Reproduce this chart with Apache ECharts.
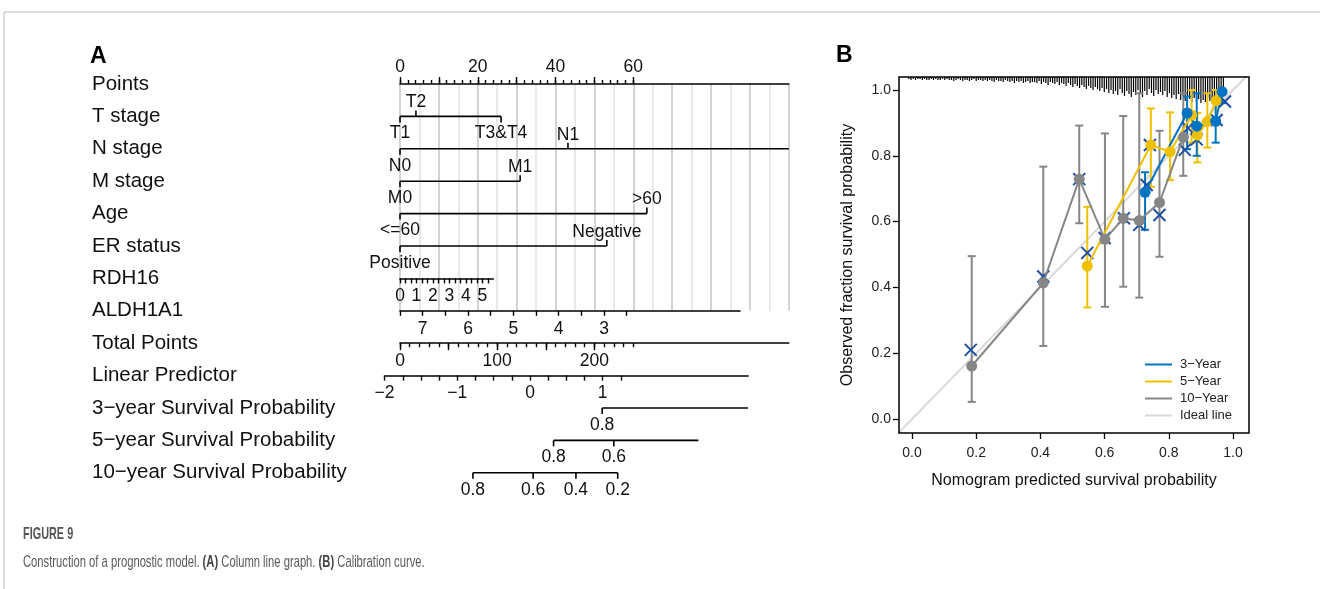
<!DOCTYPE html>
<html>
<head>
<meta charset="utf-8">
<script src="https://cdn.jsdelivr.net/npm/echarts@6/dist/echarts.min.js"></script>
<style>
html, body { margin: 0; padding: 0; background: #fff; }
#chart { width: 1320px; height: 589px; }
</style>
</head>
<body>
<div id="chart"></div>
<script>
// ---- nomogram (A) ----
var rowNames = ['Points', 'T stage', 'N stage', 'M stage', 'Age', 'ER status', 'RDH16', 'ALDH1A1',
    'Total Points', 'Linear Predictor', '3\u2212year Survival Probability',
    '5\u2212year Survival Probability', '10\u2212year Survival Probability'];

var tStage = ['T1', 'T2', 'T3&T4'], tStagePts = [0, 4.1, 26.0];
var nStage = ['N0', 'N1'], nStagePts = [0, 43.2], nStageLineEnd = 100;
var mStage = ['M0', 'M1'], mStagePts = [0, 30.9];
var ageGroup = ['<=60', '>60'], agePts = [0, 63.5];
var erStatus = ['Positive', 'Negative'], erPts = [0, 53.2];

var pointsLabels = [0, 20, 40, 60];
var rdh16Labels = [0, 1, 2, 3, 4, 5];
var aldhLabels = [7, 6, 5, 4, 3];
var totalLabels = [0, 100, 200];
var lpLabels = [-2, -1, 0, 1];

// survival scales, positions in total points
var surv3Labels = ['0.8'], surv3Total = [208], surv3Range = [208, 358];
var surv5Labels = ['0.8', '0.6'], surv5Total = [158, 220], surv5Range = [158, 307];
var surv10Labels = ['0.8', '0.6', '0.4', '0.2'], surv10Total = [75, 137, 181, 224], surv10Range = [75, 224];

// ---- calibration (B) ----
var x3y = [0.726, 0.857, 0.887, 0.946, 0.966];
var y3y = [0.689, 0.930, 0.890, 0.905, 0.995];
var lo3y = [0.575, 0.820, 0.800, 0.840, 0.960];
var hi3y = [0.750, 0.980, 0.990, 0.975, 1.000];

var x5y = [0.546, 0.744, 0.804, 0.871, 0.889, 0.920, 0.947];
var y5y = [0.465, 0.833, 0.812, 0.924, 0.863, 0.904, 0.967];
var lo5y = [0.339, 0.706, 0.726, 0.840, 0.780, 0.825, 0.900];
var hi5y = [0.645, 0.944, 0.932, 1.000, 0.930, 0.990, 1.000];

var x10y = [0.186, 0.409, 0.521, 0.601, 0.658, 0.708, 0.771, 0.845];
var y10y = [0.161, 0.414, 0.729, 0.546, 0.610, 0.603, 0.658, 0.856];
var lo10y = [0.052, 0.222, 0.595, 0.341, 0.402, 0.369, 0.493, 0.739];
var hi10y = [0.495, 0.767, 0.892, 0.868, 0.921, 0.990, 0.876, 0.990];

// bias-corrected estimates (X marks)
var xCorr = [0.183, 0.409, 0.521, 0.546, 0.600, 0.660, 0.708, 0.771, 0.731, 0.741, 0.850, 0.860, 0.887, 0.949, 0.975];
var yCorr = [0.210, 0.433, 0.729, 0.505, 0.550, 0.610, 0.590, 0.620, 0.711, 0.833, 0.818, 0.884, 0.850, 0.909, 0.965];

// distribution of predictions along the top
var rugStart = -0.01, rugStep = 0.007;
var rugCount = [2, 3, 2, 3, 2, 2, 3, 2, 3, 3, 2, 3, 2, 3, 3, 2,
    3, 2, 3, 3, 4, 3, 2, 3, 4, 3, 3, 4, 3, 2, 4, 3, 3, 4, 3, 4,
    3, 4, 5, 3, 4, 4, 5, 3, 4, 5, 4, 6, 4, 5, 4, 6, 5, 4, 6, 5,
    5, 6, 4, 7, 5, 6, 8, 5, 6, 7, 5, 8, 6, 7, 9,
    6, 8, 10, 7, 9, 11, 8, 10, 12, 9, 11, 13, 10, 12, 14,
    11, 15, 12, 16, 13, 17, 14, 18, 12, 16, 19, 14, 17, 20, 15,
    18, 13, 17, 20, 14, 18, 12, 16, 19, 13, 17, 15, 18, 14, 20,
    16, 21, 18, 22, 17, 23, 19, 24, 20, 22, 25, 21, 24, 22, 26,
    23, 25, 21, 24, 22, 20, 18, 21, 16, 12];

var FONT = 'Liberation Sans, Arial, sans-serif';
var C3 = '#0073C2', C5 = '#EFC000', C10 = '#868686', CIDEAL = '#D9D9D9', CX = '#1E50A2';

function rowY(i) { return 84 + i * 32.4; }
function range(a, b, step) {
    var out = [];
    for (var v = a; v <= b + 1e-9; v += step) out.push(+v.toFixed(4));
    return out;
}
function minus(v) { return String(v).replace('-', '\u2212'); }

var nomoRows = [
    {row: 1, from: 0, to: tStagePts[2], ticks: tStagePts, labels: tStage, alt: true},
    {row: 2, from: 0, to: nStageLineEnd, ticks: nStagePts, labels: nStage, alt: true},
    {row: 3, from: 0, to: mStagePts[1], ticks: mStagePts, labels: mStage, alt: true},
    {row: 4, from: 0, to: agePts[1], ticks: agePts, labels: ageGroup, alt: true},
    {row: 5, from: 0, to: erPts[1], ticks: erPts, labels: erStatus, alt: true},
    {row: 10, from: surv3Range[0] / 4, to: surv3Range[1] / 4, ticks: surv3Total.map(function (v) { return v / 4; }), labels: surv3Labels},
    {row: 11, from: surv5Range[0] / 4, to: surv5Range[1] / 4, ticks: surv5Total.map(function (v) { return v / 4; }), labels: surv5Labels},
    {row: 12, from: surv10Range[0] / 4, to: surv10Range[1] / 4, ticks: surv10Total.map(function (v) { return v / 4; }), labels: surv10Labels}
];

function renderNomoRow(params, api) {
    var r = nomoRows[params.dataIndex];
    var a = api.coord([r.from, r.row]), b = api.coord([r.to, r.row]);
    var kids = [{type: 'line', shape: {x1: a[0], y1: a[1], x2: b[0], y2: b[1]}, style: {stroke: '#000', lineWidth: 1.6}}];
    r.ticks.forEach(function (t, i) {
        var p = api.coord([t, r.row]);
        var dir = (r.alt && i % 2 === 1) ? -1 : 1;
        kids.push({type: 'line', shape: {x1: p[0], y1: p[1], x2: p[0], y2: p[1] + dir * 6}, style: {stroke: '#000', lineWidth: 1.6}});
        kids.push({type: 'text', x: p[0], y: p[1] + (dir > 0 ? 8 : -5), style: {
            text: r.labels[i], align: 'center', verticalAlign: dir > 0 ? 'top' : 'bottom',
            font: '17.5px ' + FONT, fill: '#111'}});
    });
    return {type: 'group', children: kids};
}

function errbarRender(color) {
    return function (params, api) {
        var p = api.coord([api.value(0), api.value(1)]), q = api.coord([api.value(0), api.value(2)]);
        var st = {stroke: color, lineWidth: 2};
        return {type: 'group', children: [
            {type: 'line', shape: {x1: p[0], y1: p[1], x2: q[0], y2: q[1]}, style: st},
            {type: 'line', shape: {x1: p[0] - 4, y1: p[1], x2: p[0] + 4, y2: p[1]}, style: st},
            {type: 'line', shape: {x1: q[0] - 4, y1: q[1], x2: q[0] + 4, y2: q[1]}, style: st}
        ]};
    };
}
function errData(xs, lo, hi) { return xs.map(function (x, i) { return [x, lo[i], hi[i]]; }); }
function ptData(xs, ys) { return xs.map(function (x, i) { return [x, ys[i]]; }); }

var calYMax = 1.0395;

function calLine(name, color, xs, ys) {
    return {
        type: 'line', name: name, xAxisIndex: 9, yAxisIndex: 6, data: ptData(xs, ys),
        symbol: 'circle', symbolSize: 11, z: 6,
        lineStyle: {color: color, width: 2}, itemStyle: {color: color}
    };
}
function calErr(name, color, xs, lo, hi) {
    return {
        type: 'custom', name: name, xAxisIndex: 9, yAxisIndex: 6, data: errData(xs, lo, hi),
        renderItem: errbarRender(color), z: 4
    };
}

var hiddenY = function (g) {
    return {gridIndex: g, type: 'value', min: 0, max: 1, show: false};
};
var blackLine = {show: true, onZero: false, lineStyle: {color: '#000', width: 1.6}};
var tickFont = {fontSize: 17.5, color: '#111', fontFamily: FONT};
var calTicks = [0, 0.2, 0.4, 0.6, 0.8, 1.0];

var option = {
    backgroundColor: '#fff',
    animation: false,
    grid: [
        {left: 400, top: rowY(0), width: 388.8, height: rowY(12) - rowY(0)},
        {left: 400, top: rowY(0), width: 388.8, height: rowY(7) - rowY(0)},
        {left: 400, top: rowY(6) - 1, width: 93.3, height: 1},
        {left: 400, top: rowY(7) - 1, width: 340, height: 1},
        {left: 400, top: rowY(8) - 1, width: 388.8, height: 1},
        {left: 384.6, top: rowY(9) - 1, width: 363.5, height: 1},
        {left: 899, top: 77, width: 350, height: 356, show: true, borderColor: '#000', borderWidth: 1.5, backgroundColor: 'transparent', z: 10}
    ],
    xAxis: [
        {gridIndex: 0, type: 'value', min: 0, max: 100, show: false},
        {gridIndex: 1, type: 'value', position: 'top', min: 0, max: 100, axisLine: blackLine,
            axisTick: {length: 7, customValues: range(0, 60, 10), lineStyle: {color: '#000', width: 1.4}},
            axisLabel: {customValues: pointsLabels, margin: 8, textStyle: tickFont},
            splitLine: {show: false}},
        {gridIndex: 1, type: 'value', position: 'top', min: 0, max: 100, axisLine: {show: false, onZero: false},
            axisTick: {length: 4, customValues: range(0, 60, 2), lineStyle: {color: '#000', width: 1.4}},
            axisLabel: {show: false}, splitLine: {show: false}},
        {gridIndex: 1, type: 'value', position: 'top', min: 0, max: 100, interval: 5, axisLine: {show: false, onZero: false},
            axisTick: {show: false}, axisLabel: {show: false},
            splitLine: {show: true, lineStyle: {color: ['#c8c8c8', '#e4e4e4'], width: 1.6}}, z: 0},
        {gridIndex: 2, type: 'value', position: 'bottom', min: 0, max: 17 / 3, axisLine: blackLine,
            axisTick: {length: 5, customValues: range(0, 17 / 3, 1 / 3), lineStyle: {color: '#000', width: 1.4}},
            axisLabel: {customValues: rdh16Labels, margin: 9, textStyle: tickFont}, splitLine: {show: false}},
        {gridIndex: 3, type: 'value', position: 'bottom', min: 0, max: 7.5, inverse: true, axisLine: blackLine,
            axisTick: {length: 5, customValues: range(2.5, 7.5, 0.5), lineStyle: {color: '#000', width: 1.4}},
            axisLabel: {customValues: aldhLabels, margin: 9, textStyle: tickFont}, splitLine: {show: false}},
        {gridIndex: 4, type: 'value', position: 'bottom', min: 0, max: 400, axisLine: blackLine,
            axisTick: {length: 7, customValues: range(0, 200, 50), lineStyle: {color: '#000', width: 1.4}},
            axisLabel: {customValues: totalLabels, margin: 9, textStyle: tickFont}, splitLine: {show: false}},
        {gridIndex: 4, type: 'value', position: 'bottom', min: 0, max: 400, axisLine: {show: false, onZero: false},
            axisTick: {length: 4, customValues: range(0, 240, 10), lineStyle: {color: '#000', width: 1.4}},
            axisLabel: {show: false}, splitLine: {show: false}},
        {gridIndex: 5, type: 'value', position: 'bottom', min: -2, max: 3, axisLine: blackLine,
            axisTick: {length: 5, customValues: range(-2, 1.25, 0.25), lineStyle: {color: '#000', width: 1.4}},
            axisLabel: {customValues: lpLabels, margin: 9, textStyle: tickFont, formatter: minus}, splitLine: {show: false}},
        {gridIndex: 6, type: 'value', position: 'bottom', min: -0.0405, max: 1.0498,
            axisLine: {show: false, onZero: false},
            axisTick: {show: true, length: 6, customValues: calTicks, lineStyle: {color: '#000', width: 1.3}},
            axisLabel: {customValues: calTicks, margin: 13, fontSize: 14, color: '#222', fontFamily: FONT,
                formatter: function (v) { return v.toFixed(1); }},
            splitLine: {show: false},
            name: 'Nomogram predicted survival probability', nameLocation: 'middle', nameGap: 40,
            nameTextStyle: {fontSize: 16, color: '#111', fontFamily: FONT}}
    ],
    yAxis: [
        {gridIndex: 0, type: 'category', data: rowNames, inverse: true, boundaryGap: false,
            axisLine: {show: false}, axisTick: {show: false},
            axisLabel: {align: 'left', margin: 308, fontSize: 20.5, color: '#111', fontFamily: FONT}},
        hiddenY(1), hiddenY(2), hiddenY(3), hiddenY(4), hiddenY(5),
        {gridIndex: 6, type: 'value', position: 'left', min: -0.0426, max: calYMax,
            axisLine: {show: false, onZero: false},
            axisTick: {show: true, length: 6, customValues: calTicks, lineStyle: {color: '#000', width: 1.3}},
            axisLabel: {customValues: calTicks, margin: 8, fontSize: 14, color: '#222', fontFamily: FONT,
                formatter: function (v) { return v.toFixed(1); }},
            splitLine: {show: false},
            name: 'Observed fraction survival probability', nameLocation: 'middle', nameGap: 43, nameRotate: 90,
            nameTextStyle: {fontSize: 16, color: '#111', fontFamily: FONT}}
    ],
    legend: {
        orient: 'vertical', left: 1140, top: 353, itemWidth: 27, itemHeight: 2, itemGap: 4, icon: 'rect',
        textStyle: {fontSize: 13, color: '#222', fontFamily: FONT, padding: [0, 0, 0, 3]},
        data: ['3\u2212Year', '5\u2212Year', '10\u2212Year', 'Ideal line']
    },
    graphic: [
        {type: 'line', shape: {x1: 4, y1: 12, x2: 1320, y2: 12}, style: {stroke: '#cfcfcf', lineWidth: 1.5}},
        {type: 'line', shape: {x1: 4, y1: 12, x2: 4, y2: 589}, style: {stroke: '#cfcfcf', lineWidth: 1.5}},
        {type: 'text', left: 90, top: 45, style: {text: 'A', font: 'bold 23px ' + FONT, fill: '#000'}},
        {type: 'text', left: 836, top: 44, style: {text: 'B', font: 'bold 23px ' + FONT, fill: '#000'}},
        {type: 'text', x: 23, y: 526, scaleX: 0.64, style: {text: 'FIGURE 9', font: 'bold 17px ' + FONT, fill: '#555'}},
        {type: 'text', x: 23, y: 554, scaleX: 0.66, style: {
            text: 'Construction of a prognostic model. {b|(A)} Column line graph. {b|(B)} Calibration curve.',
            font: '17px ' + FONT, fill: '#5a5a5a',
            rich: {b: {fontWeight: 'bold', fontSize: 17, fontFamily: FONT, fill: '#444'}}}}
    ],
    series: [
        {type: 'custom', name: 'nomo', xAxisIndex: 0, yAxisIndex: 0,
            data: nomoRows.map(function (r) { return [r.from, r.row]; }),
            renderItem: renderNomoRow, z: 5, silent: true},
        {type: 'line', name: 'Ideal line', xAxisIndex: 9, yAxisIndex: 6, data: [[-0.05, -0.05], [1.1, 1.1]],
            symbol: 'none', lineStyle: {color: CIDEAL, width: 2}, itemStyle: {color: CIDEAL}, z: 1, clip: true},
        {type: 'custom', name: 'rug', xAxisIndex: 9, yAxisIndex: 6, z: 2,
            data: rugCount.map(function (c, i) { return [rugStart + i * rugStep, c]; }),
            renderItem: function (params, api) {
                var p = api.coord([api.value(0), calYMax]);
                return {type: 'line', shape: {x1: p[0], y1: p[1], x2: p[0], y2: p[1] + api.value(1)},
                    style: {stroke: '#000', lineWidth: 1.2}};
            }},
        calErr('err10', C10, x10y, lo10y, hi10y),
        calErr('err5', C5, x5y, lo5y, hi5y),
        calErr('err3', C3, x3y, lo3y, hi3y),
        {type: 'custom', name: 'corrected', xAxisIndex: 9, yAxisIndex: 6, z: 5,
            data: ptData(xCorr, yCorr),
            renderItem: function (params, api) {
                var p = api.coord([api.value(0), api.value(1)]);
                var st = {stroke: CX, lineWidth: 2};
                return {type: 'group', children: [
                    {type: 'line', shape: {x1: p[0] - 6, y1: p[1] - 6, x2: p[0] + 6, y2: p[1] + 6}, style: st},
                    {type: 'line', shape: {x1: p[0] - 6, y1: p[1] + 6, x2: p[0] + 6, y2: p[1] - 6}, style: st}
                ]};
            }},
        calLine('10\u2212Year', C10, x10y, y10y),
        calLine('5\u2212Year', C5, x5y, y5y),
        calLine('3\u2212Year', C3, x3y, y3y)
    ]
};

var chart = echarts.init(document.getElementById('chart'));
chart.setOption(option);
</script>
</body>
</html>
